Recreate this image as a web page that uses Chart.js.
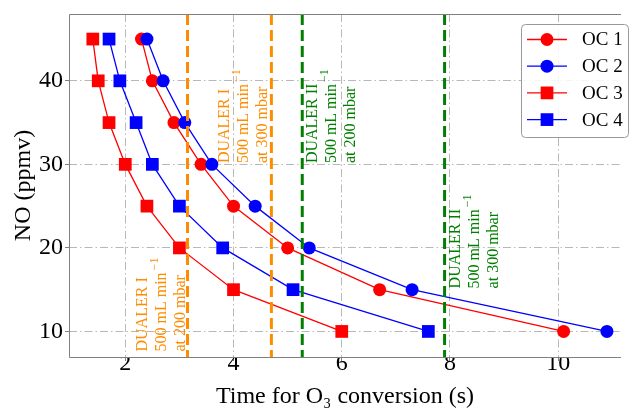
<!DOCTYPE html>
<html>
<head>
<meta charset="utf-8">
<script src="https://cdn.jsdelivr.net/npm/chart.js@4.4.0/dist/chart.umd.min.js"></script>
<style>
  html, body { margin: 0; padding: 0; background: #fff; }
</style>
</head>
<body>
<canvas id="chart" width="630" height="409"></canvas>
<script>
// NO levels (ppmv) and time for O3 conversion (s) per oxidation condition
const noLevels = [45, 40, 35, 30, 25, 20, 15, 10];
const oc1Times = [2.3, 2.5, 2.9, 3.4, 4.0, 5.0, 6.7, 10.1];
const oc2Times = [2.4, 2.7, 3.1, 3.6, 4.4, 5.4, 7.3, 10.9];
const oc3Times = [1.4, 1.5, 1.7, 2.0, 2.4, 3.0, 4.0, 6.0];
const oc4Times = [1.7, 1.9, 2.2, 2.5, 3.0, 3.8, 5.1, 7.6];
const seriesNames = ['OC 1', 'OC 2', 'OC 3', 'OC 4'];
const xTicks = [2, 4, 6, 8, 10];
const yTicks = [10, 20, 30, 40];

// DUALER reference times (s)
const dualerTimes = [3.15, 4.7, 5.27, 7.9];
const dualerNames = ['DUALER I', 'DUALER I', 'DUALER II', 'DUALER II'];
const dualerFlows = ['500 mL min', '500 mL min', '500 mL min', '500 mL min'];
const dualerPressures = ['at 200 mbar', 'at 300 mbar', 'at 200 mbar', 'at 300 mbar'];

const RED = '#ff0000', BLUE = '#0000ff', ORANGE = '#ff8c00', GREEN = '#008000';
const SERIF = "'Liberation Serif', 'DejaVu Serif', serif";

// where the rotated notes sit, in data units (x of first line, y of text start)
const notePlacement = [
  { x: 2.33, y: 7.6, color: ORANGE },
  { x: 3.84, y: 30.15, color: ORANGE },
  { x: 5.47, y: 30.15, color: GREEN },
  { x: 8.1, y: 15.15, color: GREEN }
];

function toPoints(times) {
  return times.map((t, i) => ({ x: t, y: noLevels[i] }));
}

const seriesTimes = [oc1Times, oc2Times, oc3Times, oc4Times];
const seriesColors = [RED, BLUE, RED, BLUE];
const seriesMarkers = ['circle', 'circle', 'rect', 'rect'];

const datasets = seriesTimes.map((times, i) => ({
  label: seriesNames[i],
  data: toPoints(times),
  showLine: true,
  borderColor: seriesColors[i],
  backgroundColor: seriesColors[i],
  borderWidth: 1.3,
  pointStyle: seriesMarkers[i],
  pointRadius: seriesMarkers[i] === 'rect' ? 9 : 6.5,
  pointBorderWidth: 0,
  pointHoverRadius: seriesMarkers[i] === 'rect' ? 9 : 6.5,
  order: 3 - i
}));

const decorations = {
  id: 'decorations',
  afterDatasetsDraw(chart) {
    const ctx = chart.ctx;
    const area = chart.chartArea;
    const xs = chart.scales.x, ys = chart.scales.y;

    // dashed DUALER lines
    ctx.save();
    ctx.beginPath();
    ctx.rect(area.left, area.top, area.right - area.left, area.bottom - area.top);
    ctx.clip();
    dualerTimes.forEach((t, i) => {
      const px = xs.getPixelForValue(t);
      ctx.beginPath();
      ctx.setLineDash([11, 5]);
      ctx.lineWidth = 3;
      ctx.strokeStyle = notePlacement[i].color;
      ctx.moveTo(px, area.top);
      ctx.lineTo(px, area.bottom);
      ctx.stroke();
    });
    ctx.restore();

    // rotated notes
    const fs = 16, gap = 19;
    dualerTimes.forEach((t, i) => {
      const p = notePlacement[i];
      const px = xs.getPixelForValue(p.x);
      const py = ys.getPixelForValue(p.y);
      const lines = [dualerNames[i], dualerFlows[i], dualerPressures[i]];
      lines.forEach((txt, k) => {
        ctx.save();
        ctx.translate(px + k * gap, py);
        ctx.rotate(-Math.PI / 2);
        ctx.fillStyle = p.color;
        ctx.textAlign = 'left';
        ctx.textBaseline = 'middle';
        ctx.font = fs + 'px ' + SERIF;
        ctx.fillText(txt, 0, 0);
        if (k === 1) {
          const w = ctx.measureText(txt).width;
          ctx.font = '12px ' + SERIF;
          ctx.fillText('\u22121', w + 2, -7);
        }
        ctx.restore();
      });
    });
  },
  afterDraw(chart) {
    const ctx = chart.ctx;
    const area = chart.chartArea;

    // axes frame (right side is beyond the picture)
    ctx.save();
    ctx.strokeStyle = '#808080';
    ctx.lineWidth = 1;
    ctx.beginPath();
    ctx.moveTo(area.right, area.top + 0.5);
    ctx.lineTo(area.left + 0.5, area.top + 0.5);
    ctx.lineTo(area.left + 0.5, area.bottom + 0.5);
    ctx.lineTo(area.right, area.bottom + 0.5);
    ctx.stroke();
    ctx.restore();

    // legend box, line + marker per series
    const bx = chart.width - 109, by = area.top + 10, bw = 107, bh = 113;
    ctx.save();
    ctx.fillStyle = 'rgba(255,255,255,0.85)';
    ctx.strokeStyle = '#999';
    ctx.lineWidth = 1;
    ctx.beginPath();
    ctx.roundRect(bx + 0.5, by + 0.5, bw, bh, 4);
    ctx.fill();
    ctx.stroke();
    chart.data.datasets.forEach((ds, i) => {
      const cy = by + 15.5 + i * 26.7;
      ctx.beginPath();
      ctx.strokeStyle = ds.borderColor;
      ctx.lineWidth = ds.borderWidth;
      ctx.moveTo(bx + 6, cy);
      ctx.lineTo(bx + 46, cy);
      ctx.stroke();
      ctx.fillStyle = ds.backgroundColor;
      Chart.helpers.drawPoint(ctx, {
        pointStyle: ds.pointStyle, radius: ds.pointRadius, rotation: 0, borderWidth: 0
      }, bx + 26, cy);
      ctx.fillStyle = '#000';
      ctx.font = '19px ' + SERIF;
      ctx.textAlign = 'left';
      ctx.textBaseline = 'middle';
      ctx.fillText(ds.label, bx + 61, cy + 1);
    });
    ctx.restore();
  }
};

const gridStyle = {
  color: '#b8b8b8',
  lineWidth: 1,
  tickColor: '#808080',
  tickLength: 4,
  tickWidth: 1
};

new Chart(document.getElementById('chart'), {
  type: 'scatter',
  data: { datasets },
  plugins: [decorations],
  options: {
    responsive: false,
    animation: false,
    events: [],
    layout: { padding: { top: 12, right: 0, bottom: 0, left: 0 } },
    plugins: { legend: { display: false }, tooltip: { enabled: false } },
    scales: {
      x: {
        type: 'linear',
        min: 0.96,
        max: 11.16,
        afterBuildTicks: s => { s.ticks = xTicks.map(v => ({ value: v })); },
        afterFit: s => { s.height = 52; },
        border: { display: false, dash: [8, 3, 1.5, 3] },
        grid: gridStyle,
        ticks: { color: '#000', font: { family: SERIF, size: 24, lineHeight: 1 }, padding: -9, maxRotation: 0 },
        title: {
          display: true,
          text: 'Time for O\u2083 conversion (s)',
          color: '#000',
          font: { family: SERIF, size: 24, lineHeight: 1 },
          padding: { top: 0, bottom: 0 }
        }
      },
      y: {
        type: 'linear',
        min: 6.94,
        max: 48.0,
        afterBuildTicks: s => { s.ticks = yTicks.map(v => ({ value: v })); },
        afterFit: s => { s.width = 69; },
        border: { display: false, dash: [8, 3, 1.5, 3] },
        grid: gridStyle,
        ticks: { color: '#000', font: { family: SERIF, size: 24, lineHeight: 1 }, padding: 2 },
        title: {
          display: true,
          text: 'NO (ppmv)',
          color: '#000',
          font: { family: SERIF, size: 24, lineHeight: 1 },
          padding: { top: 12, bottom: 0 }
        }
      }
    }
  }
});
</script>
</body>
</html>
